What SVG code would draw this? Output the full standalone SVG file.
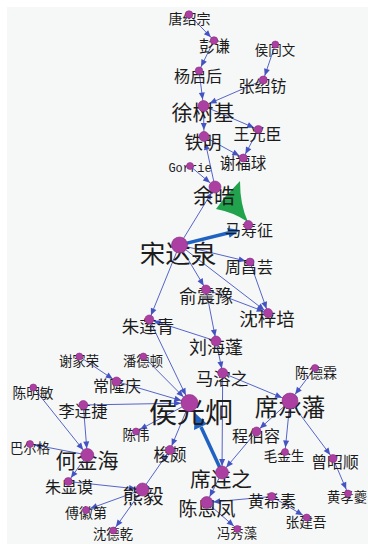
<svg xmlns="http://www.w3.org/2000/svg" width="368" height="544" viewBox="0 0 368 544">
<style>
.e{stroke:#4453c2;stroke-width:0.9;fill:none}
.n{fill:#ab3fa2;stroke:#8a2f82;stroke-width:0.6}
text{font-family:"Noto Sans CJK SC","Noto Sans",sans-serif;fill:#1c1c1c;text-anchor:middle;dominant-baseline:central}
.mono{font-family:"Liberation Mono","DejaVu Sans Mono",monospace}
</style>
<defs>
<marker id="m4" markerUnits="userSpaceOnUse" markerWidth="20" markerHeight="8" refX="11.5" refY="3" orient="auto" overflow="visible"><path d="M0,0 L7,3 L0,6 Z" fill="#4453c2"/></marker>
<marker id="m6" markerUnits="userSpaceOnUse" markerWidth="20" markerHeight="8" refX="13.5" refY="3" orient="auto" overflow="visible"><path d="M0,0 L7,3 L0,6 Z" fill="#4453c2"/></marker>
<marker id="m8" markerUnits="userSpaceOnUse" markerWidth="20" markerHeight="8" refX="15.5" refY="3" orient="auto" overflow="visible"><path d="M0,0 L7,3 L0,6 Z" fill="#4453c2"/></marker>
</defs>
<rect x="0" y="0" width="368" height="544" fill="#ffffff"/>
<rect x="7" y="7" width="361" height="537" fill="#f6f7f7"/>
<g id="connectors">
<line class="e" x1="189" y1="14.5" x2="214" y2="40.5" marker-end="url(#m4)"/>
<line class="e" x1="214" y1="40.5" x2="199" y2="70.7" marker-end="url(#m4)"/>
<line class="e" x1="199" y1="70.7" x2="203.5" y2="106" marker-end="url(#m6)"/>
<line class="e" x1="275.3" y1="44.5" x2="263.3" y2="80" marker-end="url(#m4)"/>
<line class="e" x1="263.3" y1="80" x2="203.5" y2="106" marker-end="url(#m6)"/>
<line class="e" x1="203.5" y1="106" x2="258.3" y2="129.5" marker-end="url(#m4)"/>
<line class="e" x1="203.5" y1="106" x2="204" y2="136.5" marker-end="url(#m6)"/>
<line class="e" x1="258.3" y1="129.5" x2="243.3" y2="158" marker-end="url(#m4)"/>
<line class="e" x1="204" y1="136.5" x2="243.3" y2="158" marker-end="url(#m4)"/>
<line class="e" x1="215" y1="187" x2="204" y2="136.5" marker-end="url(#m6)"/>
<line class="e" x1="190" y1="166" x2="215" y2="187" marker-end="url(#m6)"/>
<line class="e" x1="179.5" y1="245" x2="215" y2="187" marker-end="url(#m6)"/>
<line class="e" x1="179.5" y1="245" x2="250" y2="262" marker-end="url(#m4)"/>
<line class="e" x1="179.5" y1="245" x2="268" y2="313" marker-end="url(#m4)"/>
<line class="e" x1="179.5" y1="245" x2="206" y2="289.5" marker-end="url(#m4)"/>
<line class="e" x1="179.5" y1="245" x2="149.3" y2="319.5" marker-end="url(#m4)"/>
<line class="e" x1="250" y1="262" x2="268" y2="313" marker-end="url(#m4)"/>
<line class="e" x1="206" y1="289.5" x2="268" y2="313" marker-end="url(#m4)"/>
<line class="e" x1="206" y1="289.5" x2="216" y2="341" marker-end="url(#m4)"/>
<line class="e" x1="216" y1="341" x2="149.3" y2="319.5" marker-end="url(#m4)"/>
<line class="e" x1="149.3" y1="319.5" x2="189.5" y2="403" marker-end="url(#m8)"/>
<line class="e" x1="216" y1="341" x2="222.7" y2="373" marker-end="url(#m4)"/>
<line class="e" x1="222.7" y1="373" x2="290" y2="401" marker-end="url(#m8)"/>
<line class="e" x1="222.7" y1="373" x2="222" y2="472.5" marker-end="url(#m6)"/>
<line class="e" x1="315" y1="368" x2="290" y2="401" marker-end="url(#m8)"/>
<line class="e" x1="290" y1="401" x2="256.5" y2="431.5" marker-end="url(#m4)"/>
<line class="e" x1="256.5" y1="431.5" x2="222" y2="472.5" marker-end="url(#m6)"/>
<line class="e" x1="290" y1="401" x2="285" y2="452" marker-end="url(#m4)"/>
<line class="e" x1="290" y1="401" x2="333" y2="458.5" marker-end="url(#m4)"/>
<line class="e" x1="333" y1="458.5" x2="348" y2="493.5" marker-end="url(#m4)"/>
<line class="e" x1="222" y1="472.5" x2="206.7" y2="502.5" marker-end="url(#m6)"/>
<line class="e" x1="271.7" y1="496.5" x2="206.7" y2="502.5" marker-end="url(#m6)"/>
<line class="e" x1="271.7" y1="496.5" x2="306.7" y2="517.5" marker-end="url(#m4)"/>
<line class="e" x1="206.7" y1="502.5" x2="237.3" y2="529" marker-end="url(#m4)"/>
<line class="e" x1="79.3" y1="356.5" x2="116.5" y2="381.5" marker-end="url(#m4)"/>
<line class="e" x1="116.5" y1="381.5" x2="189.5" y2="403" marker-end="url(#m8)"/>
<line class="e" x1="143.3" y1="356.5" x2="189.5" y2="403" marker-end="url(#m8)"/>
<line class="e" x1="83.3" y1="405" x2="189.5" y2="403" marker-end="url(#m8)"/>
<line class="e" x1="189.5" y1="403" x2="136" y2="431.5" marker-end="url(#m4)"/>
<line class="e" x1="189.5" y1="403" x2="170" y2="450" marker-end="url(#m4)"/>
<line class="e" x1="142.5" y1="489.5" x2="170" y2="450" marker-end="url(#m4)"/>
<line class="e" x1="83.3" y1="405" x2="87.3" y2="455" marker-end="url(#m6)"/>
<line class="e" x1="33.3" y1="387.5" x2="87.3" y2="455" marker-end="url(#m6)"/>
<line class="e" x1="87.3" y1="455" x2="30" y2="444" marker-end="url(#m4)"/>
<line class="e" x1="87.3" y1="455" x2="68.3" y2="481.5" marker-end="url(#m4)"/>
<line class="e" x1="68.3" y1="481.5" x2="142.5" y2="489.5" marker-end="url(#m6)"/>
<line class="e" x1="142.5" y1="489.5" x2="86" y2="510" marker-end="url(#m4)"/>
<line class="e" x1="142.5" y1="489.5" x2="113.3" y2="530.5" marker-end="url(#m4)"/>
<path d="M225,197 L240,181 Q240,205 248,222 Q233,212 216,209 Z" fill="#21a24c"/>
<line x1="185" y1="243.6" x2="229" y2="232.8" stroke="#1f62c2" stroke-width="3.5"/>
<polygon points="240,230 229.6,237.8 227.1,228" fill="#1f62c2"/>
<line x1="220" y1="468" x2="201" y2="427" stroke="#1f62c2" stroke-width="3.5"/>
<polygon points="195,413 194,430 207,424" fill="#1f62c2"/>
</g>
<g id="n-tangshaozong"><text x="189.5" y="17.7" font-size="14">唐绍宗</text><circle class="n" cx="189" cy="14.5" r="3.8"/></g>
<g id="n-pengqian"><text x="214.5" y="44.7" font-size="15.5">彭谦</text><circle class="n" cx="214" cy="40.5" r="3.8"/></g>
<g id="n-houtongwen"><text x="275" y="48.8" font-size="13.5">侯同文</text><circle class="n" cx="275.3" cy="44.5" r="3.5"/></g>
<g id="n-yangqihou"><text x="198" y="74.8" font-size="16">杨启后</text><circle class="n" cx="199" cy="70.7" r="3.8"/></g>
<g id="n-zhangshaofang"><text x="262.5" y="85" font-size="16">张绍钫</text><circle class="n" cx="263.3" cy="80" r="4"/></g>
<g id="n-xushuji"><text x="203" y="111" font-size="21">徐树基</text><circle class="n" cx="203.5" cy="106" r="5.5"/></g>
<g id="n-wangguangchen"><text x="257.5" y="133" font-size="16">王光臣</text><circle class="n" cx="258.3" cy="129.5" r="4"/></g>
<g id="n-tieming"><text x="203" y="141.3" font-size="18.5">铁明</text><circle class="n" cx="204" cy="136.5" r="5"/></g>
<g id="n-xiefuqiu"><text x="243" y="162" font-size="15.5">谢福球</text><circle class="n" cx="243.3" cy="158" r="4"/></g>
<g id="n-gorrie"><text class="mono" x="190" y="169.4" font-size="12">Gorrie</text><circle class="n" cx="190" cy="166" r="3.5"/></g>
<g id="n-yuhao"><text x="214" y="194" font-size="21">余皓</text><circle class="n" cx="215" cy="187" r="6"/></g>
<g id="n-mashouzheng"><text x="249" y="228.6" font-size="16">马寿征</text><circle class="n" cx="248.3" cy="225" r="4.5"/></g>
<g id="n-songdaquan"><text x="178" y="251.4" font-size="25.5">宋达泉</text><circle class="n" cx="179.5" cy="245" r="8"/></g>
<g id="n-zhouchangyun"><text x="249" y="266" font-size="16">周昌芸</text><circle class="n" cx="250" cy="262" r="4"/></g>
<g id="n-yuzhenyu"><text x="206" y="295" font-size="18">俞震豫</text><circle class="n" cx="206" cy="289.5" r="4.5"/></g>
<g id="n-shenzipei"><text x="267" y="318" font-size="18.5">沈梓培</text><circle class="n" cx="268" cy="313" r="4.5"/></g>
<g id="n-zhulianqing"><text x="148" y="325" font-size="17.5">朱莲青</text><circle class="n" cx="149.3" cy="319.5" r="4.5"/></g>
<g id="n-liuhaipeng"><text x="216" y="346" font-size="18">刘海蓬</text><circle class="n" cx="216" cy="341" r="5"/></g>
<g id="n-xiejiarong"><text x="79" y="360.5" font-size="13.3">谢家荣</text><circle class="n" cx="79.3" cy="356.5" r="3.5"/></g>
<g id="n-pandedun"><text x="143" y="360.5" font-size="13.3">潘德顿</text><circle class="n" cx="143.3" cy="356.5" r="3.5"/></g>
<g id="n-marongzhi"><text x="222" y="377" font-size="17.5">马溶之</text><circle class="n" cx="222.7" cy="373" r="5"/></g>
<g id="n-chendelin"><text x="316" y="372" font-size="14">陈德霖</text><circle class="n" cx="315" cy="368" r="3.5"/></g>
<g id="n-changlongqing"><text x="117" y="384.5" font-size="16">常隆庆</text><circle class="n" cx="116.5" cy="381.5" r="4.5"/></g>
<g id="n-chenmingmin"><text x="33" y="391.5" font-size="13.7">陈明敏</text><circle class="n" cx="33.3" cy="387.5" r="3.5"/></g>
<g id="n-houguangjiong"><text x="191" y="410.5" font-size="28">侯光炯</text><circle class="n" cx="189.5" cy="403" r="8.5"/></g>
<g id="n-xichengfan"><text x="290" y="406" font-size="23.5">席承藩</text><circle class="n" cx="290" cy="401" r="8"/></g>
<g id="n-lilianjie"><text x="83" y="409.5" font-size="16.3">李连捷</text><circle class="n" cx="83.3" cy="405" r="4.5"/></g>
<g id="n-chenwei"><text x="136" y="434.3" font-size="13.5">陈伟</text><circle class="n" cx="136" cy="431.5" r="3.5"/></g>
<g id="n-chengborong"><text x="256" y="435.3" font-size="16">程伯容</text><circle class="n" cx="256.5" cy="431.5" r="4.5"/></g>
<g id="n-baerge"><text x="30" y="447" font-size="13.3">巴尔格</text><circle class="n" cx="30" cy="444" r="3.5"/></g>
<g id="n-suopo"><text x="170" y="454" font-size="16.5">梭颇</text><circle class="n" cx="170" cy="450" r="4.5"/></g>
<g id="n-hejinhai"><text x="87" y="459" font-size="21">何金海</text><circle class="n" cx="87.3" cy="455" r="6.5"/></g>
<g id="n-maojinsheng"><text x="284" y="455" font-size="13.7">毛金生</text><circle class="n" cx="285" cy="452" r="3.5"/></g>
<g id="n-zengzhaoshun"><text x="335" y="461.3" font-size="15.8">曾昭顺</text><circle class="n" cx="333" cy="458.5" r="4"/></g>
<g id="n-xilianzhi"><text x="221" y="478" font-size="20.6">席连之</text><circle class="n" cx="222" cy="472.5" r="6.5"/></g>
<g id="n-zhuxianmo"><text x="69" y="486.3" font-size="16">朱显谟</text><circle class="n" cx="68.3" cy="481.5" r="4"/></g>
<g id="n-xiongyi"><text x="143" y="494.6" font-size="20.6">熊毅</text><circle class="n" cx="142.5" cy="489.5" r="6.5"/></g>
<g id="n-huangxisu"><text x="272" y="499.8" font-size="16">黄希素</text><circle class="n" cx="271.7" cy="496.5" r="4"/></g>
<g id="n-chenenfeng"><text x="207" y="507" font-size="19">陈恩凤</text><circle class="n" cx="206.7" cy="502.5" r="6"/></g>
<g id="n-huangxiaokui"><text x="347" y="496.6" font-size="13.3">黄孝夔</text><circle class="n" cx="348" cy="493.5" r="3.5"/></g>
<g id="n-fuhuidi"><text x="86" y="512.2" font-size="14">傅徽第</text><circle class="n" cx="86" cy="510" r="3.5"/></g>
<g id="n-zhangjianwu"><text x="306" y="520.5" font-size="13.7">张建吾</text><circle class="n" cx="306.7" cy="517.5" r="3.5"/></g>
<g id="n-shendeqian"><text x="113" y="533" font-size="13.3">沈德乾</text><circle class="n" cx="113.3" cy="530.5" r="3.5"/></g>
<g id="n-fengxiuzao"><text x="237" y="532" font-size="13.3">冯秀藻</text><circle class="n" cx="237.3" cy="529" r="3.5"/></g>
</svg>
